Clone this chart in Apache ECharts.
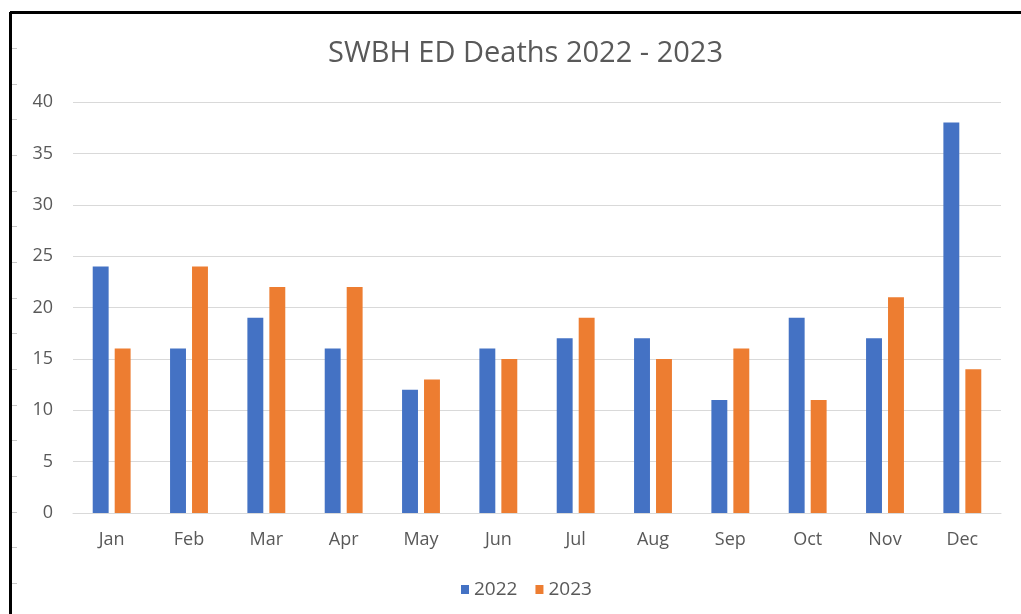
<!DOCTYPE html>
<html>
<head>
<meta charset="utf-8">
<script src="https://cdn.jsdelivr.net/npm/echarts@6/dist/echarts.min.js"></script>
<style>
  html, body { margin: 0; padding: 0; background: #ffffff; }
  #chart { width: 1021px; height: 614px; }
</style>
</head>
<body>
<div id="chart"></div>
<script>
// Monthly ED deaths, two years side by side
const months = ['Jan', 'Feb', 'Mar', 'Apr', 'May', 'Jun', 'Jul', 'Aug', 'Sep', 'Oct', 'Nov', 'Dec'];
const deaths2022 = [24, 16, 19, 16, 12, 16, 17, 17, 11, 19, 17, 38];
const deaths2023 = [16, 24, 22, 22, 13, 15, 19, 15, 16, 11, 21, 14];
const yTicks = { min: 0, max: 40, interval: 5 };

const textColor = '#595959';
const fontFamily = '"Open Sans", "Noto Sans", sans-serif';

// Frame edge with small tick marks down the left side
const frame = [
  { type: 'line', shape: { x1: 10, y1: 12.5, x2: 1021, y2: 12.5 }, style: { stroke: '#000', lineWidth: 3 } },
  { type: 'line', shape: { x1: 10.5, y1: 12, x2: 10.5, y2: 614 }, style: { stroke: '#000', lineWidth: 3 } }
];
for (let k = 0; k < 16; k++) {
  const y = Math.round(48 + k * 35.67) + 0.5;
  frame.push({ type: 'line', shape: { x1: 12, y1: y, x2: 17, y2: y }, style: { stroke: '#c8c8c8', lineWidth: 1 } });
}

const chart = echarts.init(document.getElementById('chart'));
chart.setOption({
  backgroundColor: '#ffffff',
  animation: false,
  title: {
    text: 'SWBH ED Deaths 2022 - 2023',
    left: 323,
    top: 34,
    textStyle: { color: textColor, fontSize: 29, fontWeight: 'normal', fontFamily: fontFamily }
  },
  legend: {
    top: 575,
    left: 456,
    itemWidth: 8,
    itemHeight: 9,
    itemGap: 18,
    icon: 'rect',
    textStyle: { color: textColor, fontSize: 19, fontFamily: fontFamily }
  },
  grid: { left: 73, right: 20, top: 102, bottom: 101 },
  xAxis: {
    type: 'category',
    data: months,
    axisLine: { lineStyle: { color: '#d9d9d9' } },
    axisTick: { show: false },
    axisLabel: { color: textColor, fontSize: 18, fontFamily: fontFamily, margin: 18 }
  },
  yAxis: {
    type: 'value',
    min: yTicks.min,
    max: yTicks.max,
    interval: yTicks.interval,
    axisLine: { show: false },
    axisTick: { show: false },
    axisLabel: { color: textColor, fontSize: 18, fontFamily: fontFamily, margin: 20 },
    splitLine: { lineStyle: { color: '#d9d9d9', width: 1 } }
  },
  series: [
    { name: '2022', type: 'bar', data: deaths2022, itemStyle: { color: '#4472C4' }, barGap: '38%', barCategoryGap: '51%' },
    { name: '2023', type: 'bar', data: deaths2023, itemStyle: { color: '#ED7D31' }, barGap: '38%', barCategoryGap: '51%' }
  ],
  graphic: frame
});
</script>
</body>
</html>
